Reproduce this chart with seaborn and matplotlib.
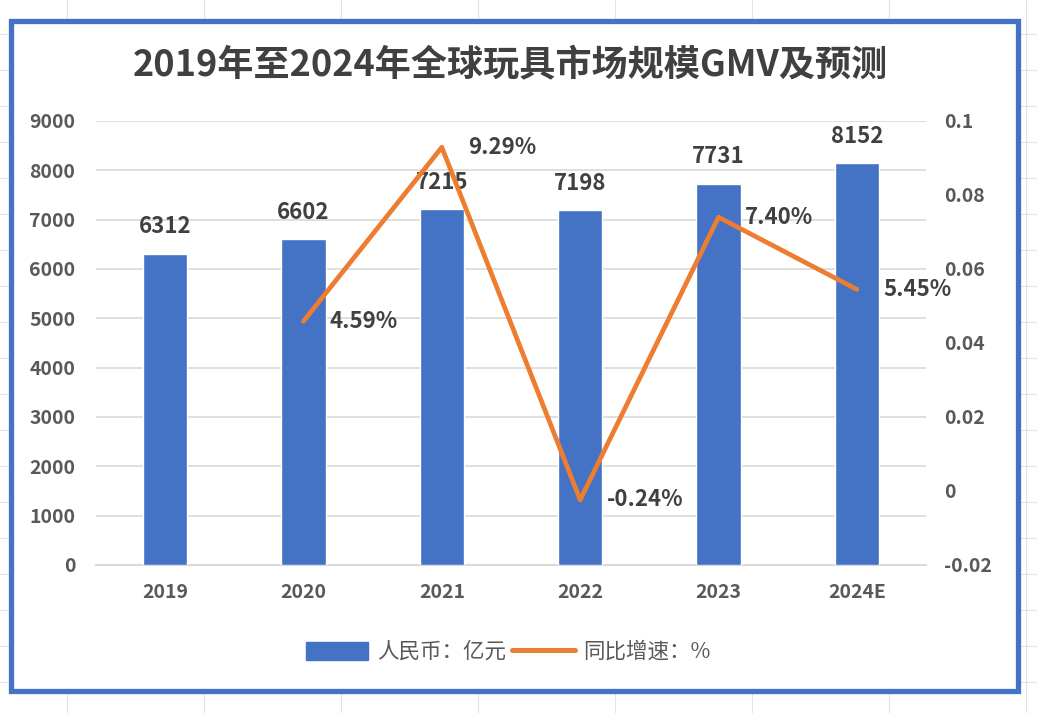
import matplotlib
matplotlib.use("Agg")
import matplotlib.pyplot as plt
import seaborn as sns
import pandas as pd
from matplotlib.lines import Line2D
from matplotlib.patches import Rectangle

# 数据
years = ["2019", "2020", "2021", "2022", "2023", "2024E"]
gmv = [6312, 6602, 7215, 7198, 7731, 8152]
growth_years = ["2020", "2021", "2022", "2023", "2024E"]
growth = [0.0459, 0.0929, -0.0024, 0.0740, 0.0545]
growth_labels = ["4.59%", "9.29%", "-0.24%", "7.40%", "5.45%"]

bar_color = "#4472C4"
line_color = "#ED7D31"
text_color = "#404040"
tick_color = "#595959"

sns.set_theme(style="white")
plt.rcParams["font.family"] = ["Noto Sans CJK SC", "DejaVu Sans"]

df_bar = pd.DataFrame({"year": years, "gmv": gmv})
df_line = pd.DataFrame({"year": growth_years, "growth": growth})

fig = plt.figure(figsize=(10.37, 7.13), dpi=100)
fig.patch.set_facecolor("white")

# 表格背景网格
W, H = 1037, 713
for gx in range(67, W, 137):
    fig.add_artist(Line2D([gx / W, gx / W], [0, 1], color="#E3E3E3", lw=0.8, zorder=0))
for gy in range(34, H, 36):
    fig.add_artist(Line2D([0, 1], [1 - gy / H, 1 - gy / H], color="#E3E3E3", lw=0.8, zorder=0))

# 图表外框
fig.add_artist(Rectangle((10.5 / W, 1 - 690.5 / H), (1017.5 - 10.5) / W, (690.5 - 20.5) / H,
                         facecolor="white", edgecolor=bar_color, lw=3.8, zorder=1))

ax = fig.add_axes([96 / W, 1 - 565 / H, 830 / W, 444 / H])
ax.set_facecolor("none")
ax.set_zorder(3)

sns.barplot(data=df_bar, x="year", y="gmv", order=years, color=bar_color,
            width=0.32, saturation=1, ax=ax, zorder=3)
ax.set_ylim(0, 9000)
ax.set_xlim(-0.5, 5.5)
ax.set_yticks(range(0, 9001, 1000))
ax.yaxis.grid(True, color="#D9D9D9", lw=1.2)
ax.set_axisbelow(True)
for s in ["top", "right", "left"]:
    ax.spines[s].set_visible(False)
ax.spines["bottom"].set_color("#D9D9D9")
ax.spines["bottom"].set_linewidth(1.5)
ax.set_xlabel("")
ax.set_ylabel("")
ax.tick_params(axis="both", length=0, labelsize=14, labelcolor=tick_color)
ax.tick_params(axis="y", pad=15)
ax.tick_params(axis="x", pad=13)
for lbl in ax.get_xticklabels() + ax.get_yticklabels():
    lbl.set_fontweight("bold")

for c in ax.containers:
    ax.bar_label(c, labels=[str(v) for v in gmv], padding=11, fontsize=16,
                 fontweight="bold", color=text_color)

# 同比增速折线（次坐标轴）
ax2 = ax.twinx()
sns.pointplot(data=df_line, x="year", y="growth", order=years, color=line_color,
              markers="", errorbar=None, ax=ax2, lw=3.4)
ax2.set_ylim(-0.02, 0.1)
ax2.set_xlim(-0.5, 5.5)
ax2.set_yticks([-0.02, 0, 0.02, 0.04, 0.06, 0.08, 0.1])
ax2.set_yticklabels(["-0.02", "0", "0.02", "0.04", "0.06", "0.08", "0.1"])
for s in ax2.spines.values():
    s.set_visible(False)
ax2.set_ylabel("")
ax2.set_xlabel("")
ax2.tick_params(axis="y", length=0, labelsize=14, labelcolor=tick_color, pad=13)
for lbl in ax2.get_yticklabels():
    lbl.set_fontweight("bold")

for yr, g, t in zip(growth_years, growth, growth_labels):
    ax2.annotate(t, (years.index(yr), g), xytext=(19, 0), textcoords="offset points",
                 ha="left", va="center", fontsize=16, fontweight="bold", color=text_color)

# 标题
fig.text(0.492, 1 - 66 / H, "2019年至2024年全球玩具市场规模GMV及预测", ha="center", va="center",
         fontsize=26, fontweight="bold", color=text_color)

# 图例
handles = [Rectangle((0, 0), 1, 1, color=bar_color),
           Line2D([0], [0], color=line_color, lw=3.6, solid_capstyle="round")]
fig.legend(handles, ["人民币：亿元", "同比增速：%"], loc="center",
           bbox_to_anchor=(0.49, 1 - 652 / H), ncol=2, frameon=False, fontsize=15.5,
           labelcolor=tick_color, handlelength=2.9, handleheight=0.9, columnspacing=0.3,
           handletextpad=0.4)

fig.savefig("out.png", dpi=100)
